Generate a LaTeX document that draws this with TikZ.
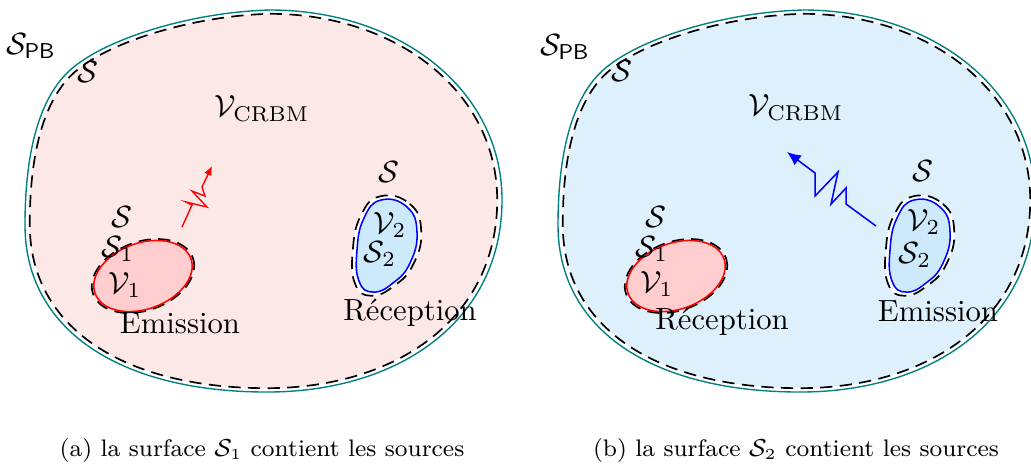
\documentclass[tikz,border=0pt]{standalone}
\usepackage{amsmath}
\usetikzlibrary{arrows.meta}
\definecolor{bgA}{RGB}{253,232,232}
\definecolor{bgB}{RGB}{222,240,252}
\definecolor{blobR}{RGB}{255,205,205}
\definecolor{blobB}{RGB}{205,234,252}
\newcommand\bigblob[1]{\path[#1] (270,10) .. controls (400,10) and (502,90) .. (502,200) .. controls (502,320) and (400,392) .. (267,392) .. controls (120,392) and (25,330) .. (25,225) .. controls (25,150) and (40,100) .. (67,73) .. controls (100,40) and (190,12) .. (270,10) -- cycle;}
\newcommand\redblob[1]{\path[#1] (143,276) ellipse [x radius=51, y radius=33, rotate=20];}
\newcommand\blueblob[1]{\path[#1] plot[smooth cycle, tension=0.8] coordinates {(381,200) (407,207) (417,232) (410,263) (393,283) (373,292) (359,281) (357,250) (364,218)};}
\begin{document}
\begin{tikzpicture}[x=0.326pt,y=-0.326pt,
  lab/.style={inner sep=0pt},
  pbline/.style={draw=teal, line width=0.45pt},
  surf/.style={draw=black, line width=0.55pt, dash pattern=on 4pt off 2.4pt},
  captext/.style={inner sep=0pt, font=\fontsize{7.8}{9}\selectfont},
]
\useasboundingbox (0,0) rectangle (1031,465);
% ---------------- panel (a)
\bigblob{pbline, fill=white}
\begin{scope}[shift={(263,200)}, scale=0.98, shift={(-263,-200)}]
  \bigblob{surf, fill=bgA}
\end{scope}
\begin{scope}[shift={(143,276)}, scale=1.04, shift={(-143,-276)}]
  \redblob{surf}
\end{scope}
\redblob{draw=red, line width=0.5pt, fill=blobR}
\begin{scope}[shift={(387,246)}, xscale=1.14, yscale=1.08, shift={(-387,-246)}]
  \blueblob{surf, fill=white}
\end{scope}
\blueblob{draw=blue, line width=0.5pt, fill=blobB}
\node[lab] (aSPB) at (31,46) {$\mathcal{S}_{\textsf{PB}}$};
\node[lab] (aS) at (88,72) {$\mathcal{S}$};
\node[lab] (aV) at (262,109) {$\mathcal{V}_{\text{CRBM}}$};
\node[lab] (aS2top) at (389,172) {$\mathcal{S}$};
\node[lab] (aV2) at (390,225) {$\mathcal{V}_2$};
\node[lab] (aS2) at (380,254) {$\mathcal{S}_2$};
\node[lab] (aRec) at (410,313) {Réception};
\node[lab] (aS1top) at (122,217) {$\mathcal{S}$};
\node[lab] (aS1) at (118,249) {$\mathcal{S}_1$};
\node[lab] (aV1) at (125,285) {$\mathcal{V}_1$};
\node[lab] (aEm) at (180,323) {Emission};
\coordinate (az0) at (182,227);
\coordinate (az1) at (192,205);
\coordinate (az2) at (186,202);
\coordinate (az3) at (207,207);
\coordinate (az4) at (192,191);
\coordinate (az5) at (205,196);
\coordinate (az6) at (202,187);
\coordinate (az7) at (212,166);
\draw[red, line width=0.45pt, -{Latex[length=3pt,width=2.6pt]}] (az0) -- (az1) -- (az2) -- (az3) -- (az4) -- (az5) -- (az6) -- (az7);
\node[captext] (capa) at (262,450) {(a) la surface $\mathcal{S}_1$ contient les sources};
% ---------------- panel (b)
\begin{scope}[shift={(533,0)}]
\bigblob{pbline, fill=white}
\begin{scope}[shift={(263,200)}, scale=0.98, shift={(-263,-200)}]
  \bigblob{surf, fill=bgB}
\end{scope}
\begin{scope}[shift={(143,276)}, scale=1.04, shift={(-143,-276)}]
  \redblob{surf}
\end{scope}
\redblob{draw=red, line width=0.5pt, fill=blobR}
\begin{scope}[shift={(387,246)}, xscale=1.14, yscale=1.08, shift={(-387,-246)}]
  \blueblob{surf, fill=white}
\end{scope}
\blueblob{draw=blue, line width=0.5pt, fill=blobB}
\node[lab] (bSPB) at (32,47) {$\mathcal{S}_{\textsf{PB}}$};
\node[lab] (bS) at (89,71) {$\mathcal{S}$};
\node[lab] (bV) at (263,108) {$\mathcal{V}_{\text{CRBM}}$};
\node[lab] (bS2top) at (390,171) {$\mathcal{S}$};
\node[lab] (bV2) at (391,222) {$\mathcal{V}_2$};
\node[lab] (bS2) at (382,255) {$\mathcal{S}_2$};
\node[lab] (bEm) at (405,311) {Emission};
\node[lab] (bS1top) at (123,217) {$\mathcal{S}$};
\node[lab] (bS1) at (119,249) {$\mathcal{S}_1$};
\node[lab] (bV1) at (124,284) {$\mathcal{V}_1$};
\node[lab] (bRec) at (189,322) {Réception};
\coordinate (bz0) at (343,226);
\coordinate (bz1) at (313,204);
\coordinate (bz2) at (313,188);
\coordinate (bz3) at (298,204);
\coordinate (bz4) at (305,172);
\coordinate (bz5) at (282,196);
\coordinate (bz6) at (282,173);
\coordinate (bz7) at (254,152);
\draw[blue, line width=0.5pt, -{Latex[length=4.5pt,width=4pt]}] (bz0) -- (bz1) -- (bz2) -- (bz3) -- (bz4) -- (bz5) -- (bz6) -- (bz7);
\node[captext] (capb) at (263,450) {(b) la surface $\mathcal{S}_2$ contient les sources};
\end{scope}
\end{tikzpicture}
\end{document}
